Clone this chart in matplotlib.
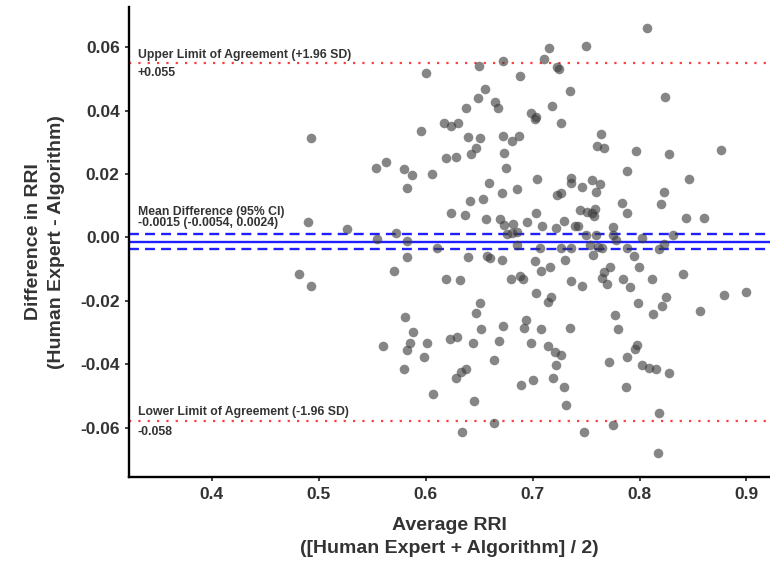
import matplotlib

matplotlib.use("Agg")
import matplotlib.pyplot as plt
import numpy as np

plt.rcParams["font.family"] = ["Liberation Sans", "DejaVu Sans"]

# average RRI (x) and difference (y)
avg_rri = [
    0.600, 0.617, 0.596, 0.4925, 0.6187, 0.5626, 0.5533, 0.5794, 0.6063, 0.5876,
    0.7152, 0.7502, 0.6720, 0.7109, 0.6498, 0.7224, 0.7243, 0.6881, 0.6551, 0.7349,
    0.6493, 0.6648, 0.6676, 0.6377, 0.7184, 0.6988, 0.7028, 0.7019, 0.6240, 0.6302,
    0.7262, 0.6395, 0.6505, 0.6720, 0.6807, 0.6876, 0.7636, 0.7605, 0.7667, 0.6467,
    0.6427, 0.6283, 0.6729, 0.6748, 0.8072, 0.8236, 0.7963, 0.8280, 0.8764, 0.7879,
    0.5829, 0.4904, 0.5262, 0.5726, 0.5549, 0.5822, 0.6109, 0.5822, 0.4820, 0.5707,
    0.4925, 0.6187, 0.5807, 0.7037, 0.6592, 0.7355, 0.7364, 0.7558, 0.7629, 0.6857,
    0.7464, 0.6710, 0.7224, 0.7268, 0.7589, 0.6411, 0.6539, 0.6234, 0.6367, 0.6561,
    0.7028, 0.6694, 0.6731, 0.6819, 0.6944, 0.7084, 0.7293, 0.7222, 0.7395, 0.7421,
    0.7439, 0.7511, 0.7558, 0.7582, 0.7573, 0.6757, 0.6810, 0.6857, 0.7495, 0.7589,
    0.6857, 0.7065, 0.7268, 0.7364, 0.7533, 0.7614, 0.7651, 0.6399, 0.6577, 0.6598,
    0.6717, 0.7022, 0.7302, 0.7564, 0.7075, 0.7162, 0.6318, 0.6794, 0.6881, 0.6913,
    0.7355, 0.7464, 0.7651, 0.7035, 0.7168, 0.7143, 0.6507, 0.6470, 0.6935, 0.8467,
    0.8227, 0.7832, 0.8203, 0.7879, 0.8439, 0.8607, 0.7754, 0.7754, 0.7776, 0.8025,
    0.8311, 0.8227, 0.8180, 0.7879, 0.7953, 0.7993, 0.7722, 0.7666, 0.7698, 0.7848,
    0.7909, 0.8119, 0.8405, 0.8794, 0.8991, 0.8250, 0.8206, 0.7988, 0.7769, 0.8124,
    0.8570, 0.5885, 0.5601, 0.5853, 0.5822, 0.6009, 0.5984, 0.5797, 0.6072, 0.6919,
    0.6720, 0.6514, 0.7075, 0.7349, 0.6224, 0.6296, 0.6442, 0.6685, 0.6981, 0.7143,
    0.7206, 0.7268, 0.7222, 0.6642, 0.6374, 0.6327, 0.6287, 0.7187, 0.7003, 0.6888,
    0.7293, 0.6451, 0.7311, 0.6642, 0.6336, 0.7479, 0.7797, 0.7979, 0.7960, 0.7710,
    0.7879, 0.8025, 0.8087, 0.8152, 0.8274, 0.7869, 0.8180, 0.7754, 0.8174,
]
diff_rri = [
    0.0518, 0.0362, 0.0336, 0.0313, 0.0251, 0.0239, 0.0219, 0.0216, 0.0200, 0.0197,
    0.0597, 0.0602, 0.0557, 0.0562, 0.0539, 0.0536, 0.0532, 0.0509, 0.0468, 0.0460,
    0.0441, 0.0427, 0.0408, 0.0408, 0.0413, 0.0392, 0.0381, 0.0374, 0.0352, 0.0360,
    0.0360, 0.0316, 0.0314, 0.0320, 0.0303, 0.0320, 0.0327, 0.0289, 0.0283, 0.0283,
    0.0262, 0.0253, 0.0266, 0.0220, 0.0660, 0.0442, 0.0271, 0.0264, 0.0274, 0.0208,
    0.0156, 0.0049, 0.0026, 0.0013, -0.0006, -0.0011, -0.0032, -0.0061, -0.0115, -0.0106,
    -0.0154, -0.0132, -0.0252, 0.0185, 0.0173, 0.0187, 0.0173, 0.0181, 0.0169, 0.0152,
    0.0158, 0.0139, 0.0134, 0.0141, 0.0144, 0.0115, 0.0121, 0.0078, 0.0071, 0.0057,
    0.0078, 0.0057, 0.0039, 0.0043, 0.0050, 0.0036, 0.0053, 0.0029, 0.0036, 0.0036,
    0.0087, 0.0081, 0.0078, 0.0089, 0.0068, 0.0011, 0.0015, 0.0018, 0.0008, 0.0008,
    -0.0024, -0.0034, -0.0032, -0.0032, -0.0024, -0.0031, -0.0035, -0.0062, -0.0058, -0.0066,
    -0.0071, -0.0076, -0.0071, -0.0057, -0.0105, -0.0095, -0.0134, -0.0131, -0.0121, -0.0131,
    -0.0139, -0.0152, -0.0129, -0.0174, -0.0189, -0.0204, -0.0208, -0.0237, -0.0260, 0.0184,
    0.0144, 0.0108, 0.0106, 0.0076, 0.0062, 0.0062, 0.0034, 0.0008, -0.0008, -0.0003,
    0.0006, -0.0021, -0.0036, -0.0034, -0.0058, -0.0092, -0.0095, -0.0108, -0.0148, -0.0132,
    -0.0155, -0.0132, -0.0116, -0.0181, -0.0171, -0.0189, -0.0216, -0.0208, -0.0244, -0.0241,
    -0.0231, -0.0299, -0.0344, -0.0334, -0.0355, -0.0332, -0.0376, -0.0416, -0.0495, -0.0286,
    -0.0278, -0.0290, -0.0288, -0.0285, -0.0320, -0.0314, -0.0334, -0.0326, -0.0334, -0.0342,
    -0.0361, -0.0372, -0.0403, -0.0386, -0.0416, -0.0423, -0.0444, -0.0442, -0.0450, -0.0465,
    -0.0471, -0.0516, -0.0528, -0.0586, -0.0613, -0.0613, -0.0288, -0.0339, -0.0353, -0.0392,
    -0.0377, -0.0404, -0.0411, -0.0416, -0.0427, -0.0473, -0.0554, -0.0591, -0.0681,
]

# summary statistics as printed on the chart
mean_diff = -0.0015
ci_label = (-0.0054, 0.0024)
upper_loa = 0.055
lower_loa = -0.058
# the dashed CI lines sit a bit tighter than the printed CI in the picture
ci_drawn = (-0.0037, 0.0010)

x_ticks = [0.4, 0.5, 0.6, 0.7, 0.8, 0.9]
y_ticks = [-0.06, -0.04, -0.02, 0.00, 0.02, 0.04, 0.06]

fig = plt.figure(figsize=(7.7, 5.68), dpi=100)
ax = fig.add_axes([0.168, 0.160, 0.832, 0.828])

ax.scatter(avg_rri, diff_rri, s=48, color="#3c3c3c", alpha=0.62, linewidths=0, zorder=3)

red = "#ff3b3b"
blue = "#1f1fff"
ax.axhline(upper_loa, color=red, linestyle=(0, (1, 3.2)), linewidth=1.6, zorder=2)
ax.axhline(lower_loa, color=red, linestyle=(0, (1, 3.2)), linewidth=1.6, zorder=2)
ax.axhline(mean_diff, color=blue, linewidth=1.7, zorder=2)
for ci in ci_drawn:
    ax.axhline(ci, color=blue, linestyle=(0, (4.2, 2.6)), linewidth=1.7, zorder=2)

text_kw = dict(fontsize=8.8, fontweight="bold", color="#333333", ha="left", va="center")
tx = 0.331
ax.text(tx, 0.0576, "Upper Limit of Agreement (+1.96 SD)", **text_kw)
ax.text(tx, 0.0519, f"+{upper_loa:.3f}", **text_kw)
ax.text(tx, 0.0081, "Mean Difference (95% CI)", **text_kw)
ax.text(tx, 0.0046, f"{mean_diff:.4f} ({ci_label[0]:.4f}, {ci_label[1]:.4f})", **text_kw)
ax.text(tx, -0.0550, "Lower Limit of Agreement (-1.96 SD)", **text_kw)
ax.text(tx, -0.0614, f"{lower_loa:.3f}", **text_kw)

ax.set_xlim(0.323, 0.922)
ax.set_ylim(-0.0756, 0.0727)
ax.set_xticks(x_ticks)
ax.set_xticklabels([f"{v:.1f}" for v in x_ticks])
ax.set_yticks(y_ticks)
ax.set_yticklabels([f"{v:.2f}" for v in y_ticks])
ax.tick_params(labelsize=12.5, colors="#333333", length=3, width=1.3, pad=4)
for lab in ax.get_xticklabels() + ax.get_yticklabels():
    lab.set_fontweight("bold")
    lab.set_color("#333333")

for side in ("top", "right"):
    ax.spines[side].set_visible(False)
for side in ("left", "bottom"):
    ax.spines[side].set_linewidth(1.7)
    ax.spines[side].set_color("black")

xl = ax.set_xlabel("Average RRI\n([Human Expert + Algorithm] / 2)", fontsize=14,
                   fontweight="bold", color="#333333", linespacing=1.5)
xl.set_va("center")
ax.xaxis.set_label_coords(0.5, -0.1275)
yl = ax.set_ylabel("Difference in RRI\n(Human Expert - Algorithm)", fontsize=14,
                   fontweight="bold", color="#333333", linespacing=1.5)
yl.set_va("center")
ax.yaxis.set_label_coords(-0.1315, 0.5)

fig.savefig("out.png", dpi=100)
